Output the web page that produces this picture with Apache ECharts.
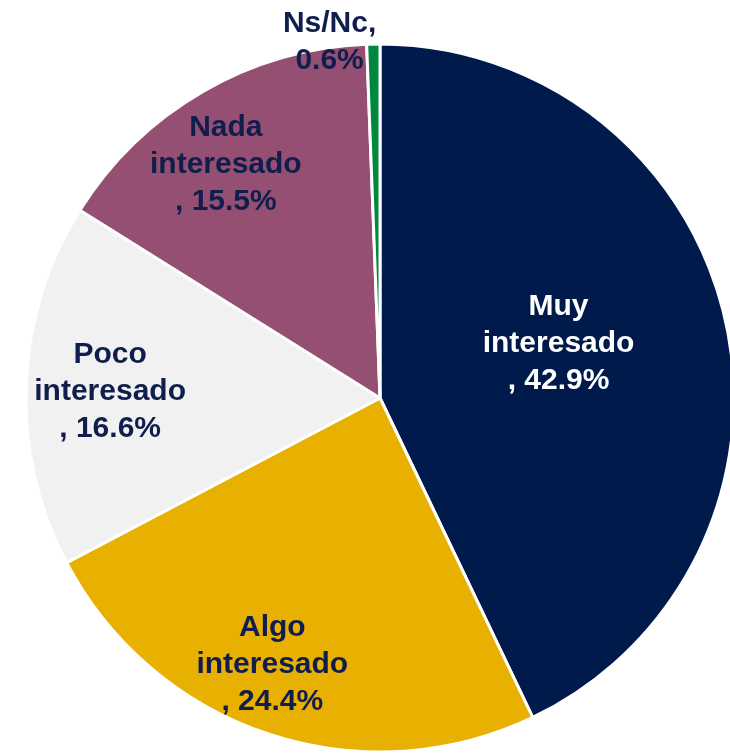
<!DOCTYPE html>
<html>
<head>
<meta charset="utf-8">
<script src="https://cdn.jsdelivr.net/npm/echarts@6/dist/echarts.min.js"></script>
<style>
  html, body { margin: 0; padding: 0; background: #fff; }
  #chart { width: 730px; height: 755px; }
</style>
</head>
<body>
<div id="chart"></div>
<script>
// 数据
const categories = ['Muy interesado', 'Algo interesado', 'Poco interesado', 'Nada interesado', 'Ns/Nc']
const percents = [42.9, 24.4, 16.6, 15.5, 0.6]

const sliceColors = ['#001A4C', '#E8B000', '#F1F1F1', '#954F72', '#00873E']
const textColors = ['#FFFFFF', '#0F1E4C', '#0F1E4C', '#0F1E4C', '#0F1E4C']
// label shift from the default inside spot
const labelShift = [[3, -14], [-51, 96], [-90, 1], [-64, -77], [-47, -176]]

const chart = echarts.init(document.getElementById('chart'))

const option = {
  backgroundColor: '#ffffff',
  animation: false,
  series: [
    {
      type: 'pie',
      center: [380, 398],
      radius: [0, 354],
      startAngle: 90,
      clockwise: true,
      avoidLabelOverlap: false,
      itemStyle: {
        borderColor: '#ffffff',
        borderWidth: 3,
      },
      label: {
        show: true,
        position: 'inside',
        fontFamily: 'Liberation Sans, Arial, sans-serif',
        fontWeight: 'bold',
        fontSize: 30,
        lineHeight: 37,
        align: 'center',
        formatter: (p) => {
          if (p.name.indexOf(' ') > -1) {
            return p.name.replace(' ', '\n') + '\n, ' + p.value.toFixed(1) + '%'
          }
          return p.name + ',\n' + p.value.toFixed(1) + '%'
        },
      },
      labelLine: { show: false },
      emphasis: { disabled: true },
      data: categories.map((name, i) => ({
        name,
        value: percents[i],
        itemStyle: { color: sliceColors[i] },
        label: { color: textColors[i], offset: labelShift[i] },
      })),
    },
  ],
}

chart.setOption(option)
</script>
</body>
</html>
